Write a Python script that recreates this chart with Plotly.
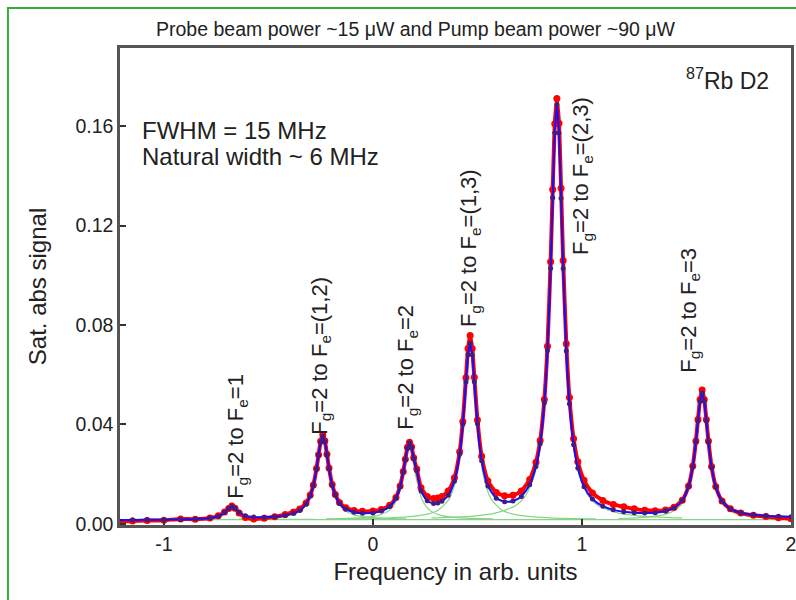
import plotly.graph_objects as go

# ---- data ----
freq = [-1.22, -1.15, -1.08, -1.00, -0.92, -0.85, -0.78, -0.74, -0.71, -0.69, -0.675, -0.66, -0.64, -0.61,
        -0.57, -0.52, -0.47, -0.42, -0.38, -0.35, -0.32, -0.30, -0.285, -0.27, -0.26, -0.25, -0.24, -0.23,
        -0.22, -0.21, -0.195, -0.18, -0.16, -0.13, -0.09, -0.05, 0.00, 0.04, 0.08, 0.11, 0.13, 0.145, 0.155,
        0.165, 0.175, 0.185, 0.195, 0.21, 0.23, 0.26, 0.29, 0.31, 0.33, 0.36, 0.39, 0.415, 0.43, 0.445,
        0.455, 0.465, 0.475, 0.485, 0.50, 0.52, 0.55, 0.59, 0.63, 0.67, 0.71, 0.75, 0.78, 0.80, 0.82,
        0.835, 0.85, 0.86, 0.87, 0.88, 0.89, 0.90, 0.91, 0.925, 0.94, 0.96, 0.98, 1.01, 1.05, 1.10, 1.15,
        1.20, 1.25, 1.30, 1.35, 1.40, 1.44, 1.48, 1.51, 1.53, 1.545, 1.555, 1.565, 1.575, 1.585, 1.595,
        1.605, 1.62, 1.64, 1.67, 1.71, 1.76, 1.82, 1.88, 1.94, 2.00]

fit_signal = [0.00148, 0.00153, 0.00157, 0.00164, 0.00175, 0.00191, 0.00231, 0.00303, 0.00449, 0.00617,
              0.00690, 0.00623, 0.00461, 0.00325, 0.00270, 0.00262, 0.00282, 0.00332, 0.00416, 0.00538,
              0.00785, 0.01115, 0.01537, 0.02198, 0.02762, 0.03284, 0.03520, 0.03297, 0.02776, 0.02213,
              0.01554, 0.01143, 0.00820, 0.00586, 0.00460, 0.00420, 0.00438, 0.00509, 0.00690, 0.01025,
              0.01494, 0.02080, 0.02579, 0.03039, 0.03252, 0.03063, 0.02614, 0.02134, 0.01314, 0.00927,
              0.00820, 0.00833, 0.00901, 0.01146, 0.01716, 0.02801, 0.04003, 0.05708, 0.06803, 0.07264,
              0.06799, 0.05713, 0.04023, 0.02541, 0.01517, 0.01030, 0.00890, 0.00917, 0.01099, 0.01567,
              0.02303, 0.03220, 0.04862, 0.06970, 0.10286, 0.13119, 0.15741, 0.16864, 0.15731, 0.13107,
              0.10271, 0.06952, 0.04826, 0.03177, 0.02249, 0.01491, 0.00999, 0.00708, 0.00560, 0.00483,
              0.00442, 0.00430, 0.00447, 0.00513, 0.00637, 0.00937, 0.01497, 0.02284, 0.03284, 0.04138,
              0.04927, 0.05268, 0.04927, 0.04136, 0.03281, 0.02268, 0.01475, 0.00909, 0.00599, 0.00441,
              0.00360, 0.00320, 0.00299, 0.00286]

measured_signal = [0.00088, 0.00113, 0.00127, 0.00144, 0.00195, 0.00181, 0.00231, 0.00323, 0.00469, 0.00617,
                   0.00710, 0.00623, 0.00431, 0.00255, 0.00190, 0.00222, 0.00282, 0.00372, 0.00476, 0.00598,
                   0.00835, 0.01155, 0.0156, 0.0222, 0.0278, 0.0332, 0.0358, 0.0334, 0.0280, 0.0224,
                   0.0158, 0.0118, 0.0086, 0.0064, 0.0053, 0.0050, 0.0051, 0.0057, 0.0074, 0.0106,
                   0.0152, 0.0210, 0.0260, 0.0308, 0.0328, 0.0310, 0.0266, 0.0220, 0.0145, 0.0110,
                   0.0102, 0.0104, 0.0110, 0.0132, 0.0185, 0.0290, 0.0412, 0.0588, 0.0705, 0.0758,
                   0.0705, 0.0590, 0.0418, 0.0272, 0.0172, 0.0126, 0.0113, 0.0115, 0.0132, 0.0178,
                   0.0248, 0.0335, 0.0500, 0.0715, 0.1055, 0.1345, 0.1610, 0.1712, 0.1612, 0.1350,
                   0.1060, 0.0725, 0.0508, 0.0342, 0.0250, 0.0175, 0.0124, 0.0094, 0.0078, 0.0068,
                   0.0060, 0.0054, 0.0052, 0.0055, 0.0066, 0.0095, 0.0152, 0.0232, 0.0333, 0.0420,
                   0.0500, 0.0538, 0.0500, 0.0420, 0.0333, 0.0230, 0.0150, 0.0092, 0.0060, 0.0043,
                   0.0034, 0.0029, 0.0024, 0.0020]

# individual fitted components (green)
comp1_x = [-1.075, -0.975, -0.875, -0.825, -0.775, -0.735, -0.705, -0.675, -0.645, -0.615, -0.575, -0.525, -0.475, -0.375, -0.275]
comp1_y = [0.00174, 0.00178, 0.00187, 0.00199, 0.0023, 0.00308, 0.00472, 0.0067, 0.00472, 0.00308, 0.0023, 0.00199, 0.00187, 0.00178, 0.00174]
comp2_x = [-0.64, -0.54, -0.44, -0.39, -0.34, -0.30, -0.27, -0.24, -0.21, -0.18, -0.14, -0.09, -0.04, 0.06, 0.16]
comp2_y = [0.00198, 0.0022, 0.00279, 0.00359, 0.00567, 0.01079, 0.0216, 0.0347, 0.0216, 0.01079, 0.00567, 0.00359, 0.00279, 0.0022, 0.00198]
comp3_x = [-0.225, -0.125, -0.025, 0.025, 0.075, 0.115, 0.145, 0.175, 0.205, 0.235, 0.275, 0.325, 0.375, 0.475, 0.575]
comp3_y = [0.00195, 0.00214, 0.00266, 0.00336, 0.00519, 0.00969, 0.01919, 0.0307, 0.01919, 0.00969, 0.00519, 0.00336, 0.00266, 0.00214, 0.00195]
comp4_x = [-0.135, 0.065, 0.165, 0.265, 0.315, 0.365, 0.405, 0.435, 0.465, 0.495, 0.525, 0.565, 0.615, 0.665, 0.765, 0.865, 1.065]
comp4_y = [0.00196, 0.00229, 0.00274, 0.00398, 0.00566, 0.01001, 0.02071, 0.04331, 0.0707, 0.04331, 0.02071, 0.01001, 0.00566, 0.00398, 0.00274, 0.00229, 0.00196]
comp5_x = [0.28, 0.48, 0.58, 0.68, 0.73, 0.78, 0.82, 0.85, 0.88, 0.91, 0.94, 0.98, 1.03, 1.08, 1.18, 1.28, 1.48]
comp5_y = [0.00233, 0.00311, 0.00419, 0.00719, 0.01123, 0.02169, 0.04743, 0.1018, 0.1677, 0.1018, 0.04743, 0.02169, 0.01123, 0.00719, 0.00419, 0.00311, 0.00233]
comp6_x = [1.175, 1.275, 1.375, 1.425, 1.475, 1.515, 1.545, 1.575, 1.605, 1.635, 1.675, 1.725, 1.775, 1.875, 1.975]
comp6_y = [0.00212, 0.00245, 0.00336, 0.00457, 0.00772, 0.01548, 0.03185, 0.0517, 0.03185, 0.01548, 0.00772, 0.00457, 0.00336, 0.00245, 0.00212]
baseline_x = [-1.21, 2.0]
baseline_y = [0.0017, 0.0017]

peak_labels = ["F<sub>g</sub>=2 to F<sub>e</sub>=1", "F<sub>g</sub>=2 to F<sub>e</sub>=(1,2)",
               "F<sub>g</sub>=2 to F<sub>e</sub>=2", "F<sub>g</sub>=2 to F<sub>e</sub>=(1,3)",
               "F<sub>g</sub>=2 to F<sub>e</sub>=(2,3)", "F<sub>g</sub>=2 to F<sub>e</sub>=3"]
label_x = [-0.65, -0.25, 0.165, 0.465, 1.0, 1.515]
label_y = [0.0350, 0.0675, 0.0630, 0.1110, 0.1400, 0.0860]

xticks = [-1, 0, 1, 2]
xtick_text = ["-1", "0", "1", "2"]
yticks = [0.0, 0.04, 0.08, 0.12, 0.16]
ytick_text = ["0.00", "0.04", "0.08", "0.12", "0.16"]

FONT = "Liberation Sans, Arial, sans-serif"
GREEN = "#86d486"
TXT = "#222222"

fig = go.Figure()
for cx, cy in [(baseline_x, baseline_y), (comp1_x, comp1_y), (comp2_x, comp2_y), (comp3_x, comp3_y),
               (comp4_x, comp4_y), (comp5_x, comp5_y), (comp6_x, comp6_y)]:
    fig.add_trace(go.Scatter(x=cx, y=cy, mode="lines",
                             line=dict(color=GREEN, width=1.2, shape="spline", smoothing=0.7),
                             showlegend=False, hoverinfo="skip"))

fig.add_trace(go.Scatter(x=freq, y=measured_signal, mode="lines+markers",
                         line=dict(color="#ff0000", width=4, shape="spline", smoothing=0.6),
                         marker=dict(color="#ff0000", size=7),
                         showlegend=False))
fig.add_trace(go.Scatter(x=freq, y=fit_signal, mode="lines+markers",
                         line=dict(color="#1010ff", width=2, shape="spline", smoothing=0.6),
                         marker=dict(color="#401c86", size=5),
                         showlegend=False))

for t, lx, ly in zip(peak_labels, label_x, label_y):
    fig.add_annotation(x=lx, y=ly, xref="x", yref="y", text=t, textangle=-90, showarrow=False,
                       font=dict(family=FONT, size=22, color=TXT),
                       xanchor="center", yanchor="middle")

fig.add_annotation(x=0.03, y=0.828, xref="paper", yref="paper", text="FWHM = 15 MHz",
                   showarrow=False, xanchor="left", yanchor="middle",
                   font=dict(family=FONT, size=24, color=TXT))
fig.add_annotation(x=0.03, y=0.772, xref="paper", yref="paper", text="Natural width ~ 6 MHz",
                   showarrow=False, xanchor="left", yanchor="middle",
                   font=dict(family=FONT, size=24, color=TXT))
fig.add_annotation(x=0.97, y=0.935, xref="paper", yref="paper", text="<sup>87</sup>Rb D2",
                   showarrow=False, xanchor="right", yanchor="middle",
                   font=dict(family=FONT, size=23, color=TXT))
fig.add_annotation(x=0.44, y=1.04, xref="paper", yref="paper",
                   text="Probe beam power ~15 \u03bcW and Pump beam power ~90 \u03bcW",
                   showarrow=False, xanchor="center", yanchor="middle",
                   font=dict(family=FONT, size=19.5, color=TXT))

# green outer frame
fig.add_shape(type="rect", xref="paper", yref="paper", x0=-0.167, y0=-0.2, x1=1.02, y1=1.084,
              line=dict(color="#3aaa35", width=2), layer="below")

fig.update_xaxes(range=[-1.21, 2.0], tickvals=xticks, ticktext=xtick_text, ticks="inside", ticklen=6,
                 tickwidth=1.5, tickcolor="#333333", showline=True, linecolor="#555555", linewidth=2.5,
                 mirror=True, showgrid=False, zeroline=False, automargin=False,
                 ticklabeloverflow="allow",
                 tickfont=dict(family=FONT, size=19.5, color=TXT),
                 title=dict(text="Frequency in arb. units", font=dict(family=FONT, size=24, color=TXT),
                            standoff=10))
fig.update_yaxes(range=[-0.0005, 0.1915], tickvals=yticks, ticktext=ytick_text, ticks="inside", ticklen=6,
                 tickwidth=1.5, tickcolor="#333333", showline=True, linecolor="#555555", linewidth=2.5,
                 mirror=True, showgrid=False, zeroline=False, automargin=False,
                 tickfont=dict(family=FONT, size=19.5, color=TXT),
                 title=dict(text="Sat. abs signal", font=dict(family=FONT, size=24, color=TXT),
                            standoff=22))
fig.update_layout(width=796, height=600, margin=dict(l=120, r=5, t=48, b=75),
                  paper_bgcolor="white", plot_bgcolor="white", showlegend=False)

fig.write_html("out.html", config={"displayModeBar": False},
               post_script="document.body.style.margin='0';document.body.style.overflow='hidden';")
